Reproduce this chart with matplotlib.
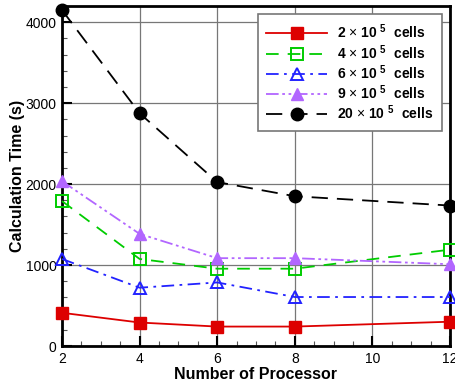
import matplotlib
matplotlib.use("Agg")
import matplotlib.pyplot as plt
from matplotlib.ticker import MultipleLocator

plt.rcParams['font.family'] = ['Liberation Sans', 'DejaVu Sans']
plt.rcParams['mathtext.fontset'] = 'custom'
plt.rcParams['mathtext.rm'] = 'Liberation Sans'
plt.rcParams['mathtext.bf'] = 'Liberation Sans:bold'

procs = [2, 4, 6, 8, 12]
t2 = [410, 290, 240, 240, 300]
t4 = [1790, 1075, 955, 955, 1190]
t6 = [1075, 720, 785, 605, 605]
t9 = [2035, 1385, 1085, 1085, 1010]
t20 = [4150, 2875, 2025, 1850, 1735]
labels = [r'2 $\times$ 10 $^{\mathbf{5}}$  cells',
          r'4 $\times$ 10 $^{\mathbf{5}}$  cells',
          r'6 $\times$ 10 $^{\mathbf{5}}$  cells',
          r'9 $\times$ 10 $^{\mathbf{5}}$  cells',
          r'20 $\times$ 10 $^{\mathbf{5}}$  cells']

fig = plt.figure(figsize=(4.55, 3.81), dpi=100)
ax = fig.add_axes([62/455, 35/381, 388/455, 340/381])

ax.plot(procs, t2, color='#dd0000', ls='-', lw=1.3, marker='s', ms=8,
        mfc='#dd0000', mec='#dd0000', clip_on=False, zorder=5, label=labels[0])
ax.plot(procs, t4, color='#00cc00', ls=(0, (7, 5)), lw=1.3, marker='s', ms=9,
        mfc='none', mec='#00cc00', mew=1.4, clip_on=False, zorder=5, label=labels[1])
ax.plot(procs, t6, color='#2222ff', ls=(0, (7, 3, 1.5, 3)), lw=1.3, marker='^', ms=9,
        mfc='none', mec='#2222ff', mew=1.4, clip_on=False, zorder=5, label=labels[2])
ax.plot(procs, t9, color='#b266ff', ls=(0, (7, 2, 1.5, 2, 1.5, 2)), lw=1.3, marker='^', ms=9,
        mfc='#b266ff', mec='#b266ff', clip_on=False, zorder=5, label=labels[3])
ax.plot(procs, t20, color='black', ls=(0, (9, 5)), lw=1.3, marker='o', ms=9,
        mfc='black', mec='black', clip_on=False, zorder=5, label=labels[4])

ax.set_xlim(2, 12)
ax.set_ylim(0, 4200)
ax.xaxis.set_major_locator(MultipleLocator(2))
ax.xaxis.set_minor_locator(MultipleLocator(0.5))
ax.yaxis.set_major_locator(MultipleLocator(1000))
ax.yaxis.set_minor_locator(MultipleLocator(200))
ax.tick_params(which='major', direction='in', length=7, width=1.5, labelsize=10, pad=4)
ax.tick_params(which='minor', direction='in', length=3.5, width=0.8, color='#555555')
ax.grid(True, which='major', color='#777777', lw=0.9)
for s in ax.spines.values():
    s.set_linewidth(2)

ax.set_xlabel('Number of Processor', fontsize=11.5, fontweight='bold', labelpad=1)
ax.set_ylabel('Calculation Time (s)', fontsize=11.5, fontweight='bold', labelpad=0)

leg = ax.legend(loc='upper right', prop={'weight': 'bold', 'size': 10},
                handlelength=4.4, handletextpad=0.7, fancybox=False, framealpha=1,
                edgecolor='#777777', borderaxespad=0.6, labelspacing=0.12,
                borderpad=0.6)
leg.get_frame().set_linewidth(1.2)

fig.savefig('out.png', dpi=100)
